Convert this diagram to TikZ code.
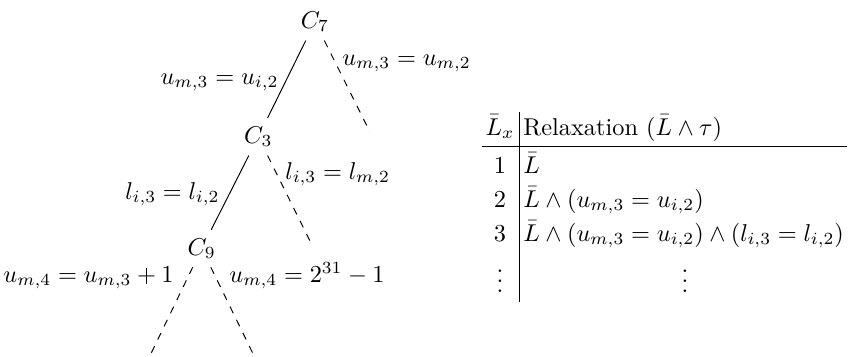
\documentclass[tikz,border=0pt]{standalone}
\begin{document}
\begin{tikzpicture}[x=0.411pt,y=-0.411pt,
  tnode/.style={},
  lbl/.style={inner sep=0pt},
  treeedge/.style={line width=0.4pt},
  openedge/.style={line width=0.4pt,dashed},
  rule/.style={line width=0.4pt}]
\clip (0,0) rectangle (848,356);
% tree nodes
\node[tnode, anchor=base] (C7) at (315,28.3) {$C_7$};
\node[tnode, anchor=base] (C3) at (258.3,143.3) {$C_3$};
\node[tnode, anchor=base] (C9) at (201.7,255) {$C_9$};
\coordinate (R1) at (370,132);
\coordinate (R2) at (313,247);
\coordinate (L3) at (145,366);
\coordinate (R3) at (259,366);
% edges
\draw[treeedge] (C7) -- (C3);
\draw[openedge] (C7) -- (R1);
\draw[treeedge] (C3) -- (C9);
\draw[openedge] (C3) -- (R2);
\draw[openedge] (C9) -- (L3);
\draw[openedge] (C9) -- (R3);
% edge labels
\node[lbl, anchor=base east] (la) at (279,84) {$u_{m,3} = u_{i,2}$};
\node[lbl, anchor=base west] (lb) at (342,65) {$u_{m,3} = u_{m,2}$};
\node[lbl, anchor=base east] (lc) at (220,199) {$l_{i,3} = l_{i,2}$};
\node[lbl, anchor=base west] (ld) at (285,179) {$l_{i,3} = l_{m,2}$};
\node[lbl, anchor=base east] (le) at (174,282) {$u_{m,4} = u_{m,3} + 1$};
\node[lbl, anchor=base west] (lf) at (229,282) {$u_{m,4} = 2^{31} - 1$};
% table
\node[lbl, anchor=base] (h1) at (500,135) {$\bar{L}_x$};
\node[lbl, anchor=base west] (h2) at (523,135) {Relaxation $(\bar{L} \wedge \tau)$};
\node[lbl, anchor=base] (n1) at (500,173) {$1$};
\node[lbl, anchor=base west] (t1) at (523,173) {$\bar{L}$};
\node[lbl, anchor=base] (n2) at (500,207) {$2$};
\node[lbl, anchor=base west] (t2) at (523,207) {$\bar{L} \wedge (u_{m,3} = u_{i,2})$};
\node[lbl, anchor=base] (n3) at (500,241) {$3$};
\node[lbl, anchor=base west] (t3) at (523,241) {$\bar{L} \wedge (u_{m,3} = u_{i,2}) \wedge (l_{i,3} = l_{i,2})$};
\node[lbl, anchor=base] (d1) at (500,292) {$\vdots$};
\node[lbl, anchor=base] (d2) at (685,292) {$\vdots$};
\coordinate (vt) at (519,112);
\coordinate (vb) at (519,302);
\coordinate (hl) at (482,146);
\coordinate (hr) at (847,146);
\draw[rule] (vt) -- (vb);
\draw[rule] (hl) -- (hr);
\end{tikzpicture}
\end{document}
